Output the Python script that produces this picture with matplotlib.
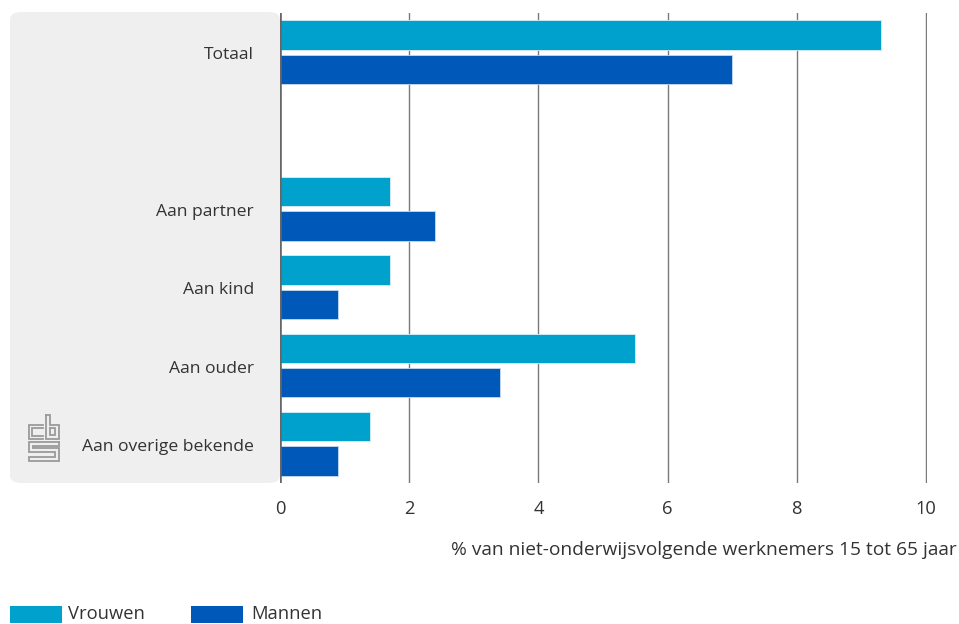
import matplotlib
matplotlib.use("Agg")
import matplotlib.pyplot as plt
from matplotlib.patches import FancyBboxPatch, Rectangle
from matplotlib.lines import Line2D
import numpy as np

plt.rcParams['font.family'] = ['Open Sans', 'DejaVu Sans']

categories = ["Totaal", "Aan partner", "Aan kind", "Aan ouder", "Aan overige bekende"]
positions = [0, 2, 3, 4, 5]
vrouwen = [9.3, 1.7, 1.7, 5.5, 1.4]
mannen = [7.0, 2.4, 0.9, 3.4, 0.9]
xticks = [0, 2, 4, 6, 8, 10]
xlabel = "% van niet-onderwijsvolgende werknemers 15 tot 65 jaar"
series_names = ["Vrouwen", "Mannen"]

c_vrouwen = "#00a1cd"
c_mannen = "#0058b8"
text_c = "#333333"
FS = 13.2
FS_CAT = 12.6
FS_XLAB = 13.8

W, H = 959, 624
fig = plt.figure(figsize=(W / 100, H / 100), dpi=100)

def fx(px):
    return px / W

def fy(py):
    return 1 - py / H

# grey label panel behind the axes
panel = FancyBboxPatch((fx(10), fy(483)), fx(280) - fx(10), fy(12) - fy(483),
                       boxstyle="round,pad=0,rounding_size=0.012",
                       transform=fig.transFigure, facecolor="#efefef",
                       edgecolor="none", zorder=-5)
fig.patches.append(panel)

ax = fig.add_axes([fx(280), fy(483), fx(927) - fx(280), fy(13) - fy(483)])
ax.set_zorder(2)
ax.set_facecolor("none")
ax.set_xlim(0, 10.0 * (927 - 280) / (926 - 280))
ax.set_ylim(5.5, -0.5)

off = 0.218
h = 0.375
pos = np.array(positions, dtype=float)
ax.barh(pos - off, vrouwen, height=h, color=c_vrouwen, edgecolor="#d8eef6",
        linewidth=0.6, zorder=3)
ax.barh(pos + off, mannen, height=h, color=c_mannen, edgecolor="#c8d9ee",
        linewidth=0.6, zorder=3)

for t in xticks[1:]:
    ax.axvline(t, color="#7a7a7a", lw=1.0, zorder=1)
ax.axvline(0, color="#666666", lw=2.6, zorder=4)

for s in ax.spines.values():
    s.set_visible(False)
ax.set_yticks([])
ax.set_xticks(xticks)
ax.set_xticklabels([str(t) for t in xticks], fontsize=FS, color=text_c)
ax.tick_params(axis="x", length=0, pad=12)

for p, c in zip(positions, categories):
    ax.text(-26 / 64.6, p + 0.09, c, ha="right", va="baseline", fontsize=FS_CAT,
            color=text_c, clip_on=False)

fig.text(fx(957), fy(555), xlabel, ha="right", va="baseline", fontsize=FS_XLAB,
         color=text_c)

# legend
for name, col, x0, tx in [(series_names[0], c_vrouwen, 10, 68),
                          (series_names[1], c_mannen, 191, 251)]:
    fig.patches.append(Rectangle((fx(x0), fy(623)), fx(52), fy(606) - fy(623),
                                 transform=fig.transFigure, facecolor=col,
                                 edgecolor="none"))
    fig.text(fx(tx), fy(614), name, ha="left", va="center", fontsize=FS,
             color=text_c)

# small cbs emblem
g = "#9a9a9a"
def seg(pts):
    xs = [fx(p[0]) for p in pts]
    ys = [fy(p[1]) for p in pts]
    fig.lines.append(Line2D(xs, ys, color=g, lw=1.3, transform=fig.transFigure,
                            solid_joinstyle="miter"))

# "c" block
seg([(43, 425), (29, 425), (29, 439), (43, 439)])
seg([(43, 428), (32, 428), (32, 436), (43, 436)])
# "b" block
seg([(46, 415), (46, 439), (59, 439), (59, 425), (50, 425), (50, 415), (46, 415)])
seg([(50, 428), (55, 428), (55, 435), (50, 435), (50, 428)])
# "s" block
seg([(59, 442), (29, 442), (29, 452), (55, 452), (55, 457), (29, 457), (29, 461),
     (59, 461), (59, 448), (33, 448), (33, 446), (59, 446), (59, 442)])

fig.savefig("out.png", dpi=100)
